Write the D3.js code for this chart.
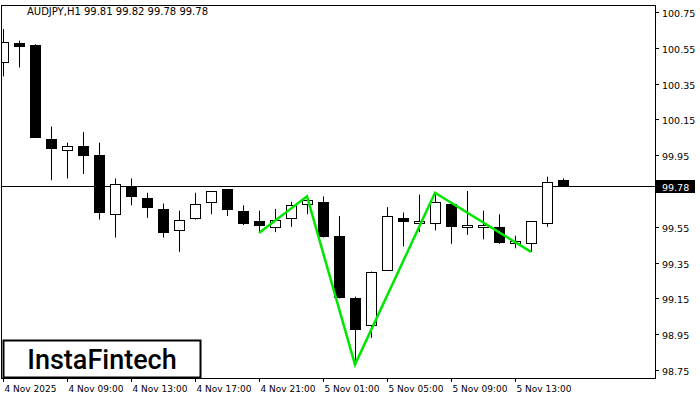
<!DOCTYPE html>
<html><head><meta charset="utf-8">
<script src="https://cdn.jsdelivr.net/npm/d3@7"></script>
<style>body{margin:0;background:#fff}svg{display:block;font-family:"DejaVu Sans",sans-serif}</style>
</head><body>
<svg id="c" width="700" height="400"></svg>
<script>
// candles, H1
var opens  = [100.47,100.577,100.565,100.04,99.98,100.0,99.95,99.62,99.78,99.71,99.65,99.53,99.60,99.69,99.76,99.64,99.58,99.55,99.60,99.68,99.69,99.50,99.15,99.0,99.31,99.60,99.57,99.57,99.68,99.55,99.55,99.55,99.46,99.46,99.57,99.81];
var closes = [100.58,100.56,100.05,99.99,100.0,99.95,99.63,99.79,99.72,99.66,99.52,99.59,99.68,99.75,99.65,99.57,99.56,99.59,99.67,99.70,99.50,99.16,98.98,99.30,99.61,99.58,99.58,99.69,99.555,99.56,99.56,99.465,99.47,99.58,99.80,99.78];
var highs  = [100.655,100.59,100.57,100.11,100.02,100.08,100.02,99.82,99.82,99.74,99.68,99.64,99.74,99.75,99.76,99.67,99.64,99.65,99.69,99.72,99.72,99.61,99.16,99.30,99.66,99.63,99.73,99.74,99.68,99.75,99.64,99.62,99.50,99.58,99.83,99.82];
var lows   = [100.39,100.44,100.05,99.81,99.82,99.845,99.59,99.49,99.67,99.60,99.49,99.41,99.59,99.62,99.61,99.56,99.52,99.52,99.55,99.62,99.49,99.15,98.78,98.93,99.31,99.44,99.52,99.53,99.455,99.505,99.48,99.455,99.43,99.41,99.55,99.78];
var patternIdx = [16,19,22,27,33];
var patternPx  = [99.515,99.72,98.78,99.74,99.41];
var priceTicks = [100.75,100.55,100.35,100.15,99.95,99.55,99.35,99.15,98.95,98.75];
var timeLabels = ["4 Nov 2025","4 Nov 09:00","4 Nov 13:00","4 Nov 17:00","4 Nov 21:00","5 Nov 01:00","5 Nov 05:00","5 Nov 09:00","5 Nov 13:00"];
var lastPrice = 99.78;

var svg = d3.select("#c");
var y = d3.scaleLinear().domain([98.75,100.75]).range([370,12]);
var x = d3.scaleLinear().domain([0,1]).range([3,19]);
var L = 1, R = 655, T = 5, B = 378;

svg.append("clipPath").attr("id","plot").append("rect").attr("x",L+1).attr("y",T+1).attr("width",R-L-1).attr("height",B-T-1);

svg.append("text").attr("x",27).attr("y",15).attr("font-size",10).text("AUDJPY,H1  99.81 99.82 99.78 99.78");

// price axis
priceTicks.forEach(function(p){
  var yy = Math.round(y(p))+0.5;
  svg.append("line").attr("x1",R).attr("x2",R+4).attr("y1",yy).attr("y2",yy).attr("stroke","#000");
  svg.append("text").attr("x",662).attr("y",yy+4).attr("font-size",9.5).text(p.toFixed(2));
});
// time axis
timeLabels.forEach(function(t,i){
  var xx = Math.round(x(i*4))+0.5;
  svg.append("line").attr("x1",xx).attr("x2",xx).attr("y1",B).attr("y2",B+4).attr("stroke","#000");
  svg.append("text").attr("x",xx+1).attr("y",392).attr("font-size",9).text(t);
});

var clip = svg.append("g").attr("clip-path","url(#plot)");
// last price line
var ly = Math.round(y(lastPrice))+0.5;
clip.append("line").attr("x1",L).attr("x2",R).attr("y1",ly).attr("y2",ly).attr("stroke","#000");

// candles
opens.forEach(function(o,i){
  var c = closes[i], cx = Math.round(x(i))+0.5;
  clip.append("line").attr("x1",cx).attr("x2",cx).attr("y1",y(highs[i])).attr("y2",y(lows[i])).attr("stroke","#000");
  var top = Math.round(y(Math.max(o,c))), bot = Math.round(y(Math.min(o,c)));
  clip.append("rect").attr("x",cx-5).attr("y",top+0.5).attr("width",10).attr("height",Math.max(bot-top,2))
    .attr("fill", c>=o ? "#fff" : "#000").attr("stroke","#000");
});

// pattern
clip.append("path")
  .attr("d", d3.line().x(function(d){return x(d);}).y(function(d,i){return y(patternPx[i]);})(patternIdx))
  .attr("fill","none").attr("stroke","#00e600").attr("stroke-width",2.5);

// frame
svg.append("rect").attr("x",L+0.5).attr("y",T+0.5).attr("width",R-L).attr("height",B-T)
  .attr("fill","none").attr("stroke","#000");

// price label
svg.append("rect").attr("x",R).attr("y",ly-6.5).attr("width",40).attr("height",13).attr("fill","#000");
svg.append("text").attr("x",662).attr("y",ly+4).attr("font-size",9.5).attr("fill","#fff").text(lastPrice.toFixed(2));

// logo
svg.append("rect").attr("x",3.5).attr("y",340.5).attr("width",197).attr("height",37).attr("fill","#fff").attr("stroke","#000").attr("stroke-width",2);
svg.append("text").attr("x",102).attr("y",369).attr("text-anchor","middle").attr("font-size",27).attr("font-weight",500)
  .attr("font-family","Roboto, sans-serif").text("InstaFintech");
</script>
</body></html>
